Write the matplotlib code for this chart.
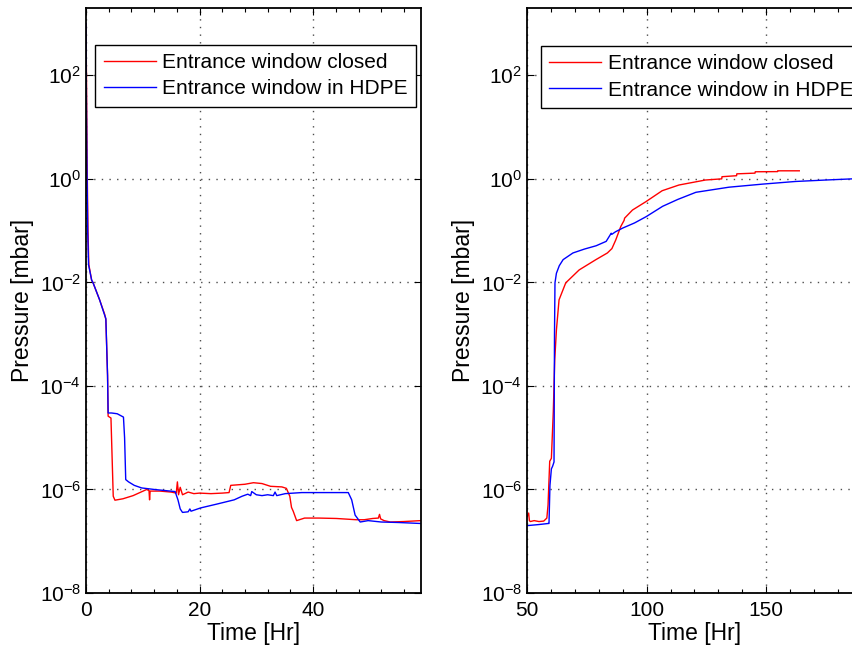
import numpy as np
import matplotlib
matplotlib.use('Agg')
import matplotlib.pyplot as plt
from matplotlib.ticker import FixedLocator, MultipleLocator, NullLocator, LogFormatterSciNotation

plt.rcParams['font.family'] = ['Liberation Sans', 'DejaVu Sans']
plt.rcParams['font.size'] = 15

# ---- pump-down (left panel) ----
t_closed_down = [0, 0.1, 0.2, 0.35, 0.5, 1.0, 1.25, 2.4, 3.3, 3.5, 3.8, 3.9, 4.4, 4.8, 5.1,
                 6.5, 8.3, 10.7, 11.1, 11.2, 11.3, 13, 15, 15.9, 16.1, 16.3, 16.6, 17, 18, 19,
                 20, 22, 24, 25.2, 25.5, 28, 29.5, 31, 32.5, 34.5, 35.3, 35.9, 36.2, 36.5,
                 37.1, 38.5, 41, 44.1, 47.6, 49, 50.5, 51.5, 51.7, 51.9, 52.5, 53.6, 56, 59]
p_closed_down = [1e3, 63, 2.0, 0.1, 2.2e-2, 1.1e-2, 9.8e-3, 4.6e-3, 2.4e-3, 1.9e-3, 1.6e-4,
                 2.6e-5, 2.4e-5, 7.4e-7, 6.2e-7, 6.6e-7, 7.6e-7, 1.0e-6, 9.5e-7, 6.3e-7,
                 9.3e-7, 9.3e-7, 8.9e-7, 8.5e-7, 1.4e-6, 7.9e-7, 1.1e-6, 7.9e-7, 8.9e-7,
                 8.3e-7, 8.5e-7, 8.3e-7, 8.5e-7, 8.7e-7, 1.2e-6, 1.26e-6, 1.35e-6, 1.3e-6,
                 1.15e-6, 1.12e-6, 1.05e-6, 7.4e-7, 4.5e-7, 3.8e-7, 2.5e-7, 2.8e-7, 2.8e-7,
                 2.75e-7, 2.6e-7, 2.6e-7, 2.75e-7, 2.8e-7, 3.3e-7, 2.7e-7, 2.5e-7, 2.35e-7,
                 2.4e-7, 2.5e-7]

t_hdpe_down = [0, 0.08, 0.18, 0.3, 0.45, 1.0, 1.25, 2.4, 3.3, 3.5, 3.8, 3.9, 4.5, 5.5, 6.6,
               6.8, 7.0, 7.5, 8.5, 9.8, 12, 15.7, 16.2, 16.6, 17.0, 18, 18.3, 18.5, 20.2, 23,
               26.1, 27.5, 28.5, 29, 29.2, 30, 31, 32, 33, 33.3, 33.6, 35.1, 38, 42, 46.2,
               46.8, 47.4, 48.3, 49.7, 52, 55, 59]
p_hdpe_down = [1e3, 32, 1.3, 0.1, 2.2e-2, 1.1e-2, 9.8e-3, 4.6e-3, 2.3e-3, 2.0e-3, 1.6e-4,
               3.0e-5, 3.0e-5, 2.9e-5, 2.5e-5, 1e-5, 1.55e-6, 1.4e-6, 1.2e-6, 1.07e-6, 1.0e-6,
               9.1e-7, 6.3e-7, 4.2e-7, 3.6e-7, 3.7e-7, 4.2e-7, 3.8e-7, 4.4e-7, 5.2e-7, 6.3e-7,
               7.4e-7, 8.1e-7, 7.6e-7, 9.1e-7, 7.9e-7, 7.6e-7, 7.9e-7, 7.6e-7, 8.9e-7, 7.6e-7,
               8.3e-7, 8.7e-7, 8.7e-7, 8.7e-7, 6.3e-7, 3.2e-7, 2.35e-7, 2.5e-7, 2.35e-7,
               2.3e-7, 2.2e-7]

# ---- venting (right panel) ----
t_closed_up = [50, 50.7, 51.0, 51.4, 53, 55, 57, 58.3, 58.8, 59.5, 60.2, 61.0, 61.6, 62.3,
               63.4, 66.2, 71.8, 78.8, 83.6, 85.5, 87.1, 89.2, 90.6, 90.8, 94.1, 99.6, 106.5,
               113.5, 124.6, 131.4, 131.5, 137.6, 137.7, 145.3, 145.4, 154.7, 154.8, 163.8]
p_closed_up = [3.0e-7, 3.5e-7, 2.5e-7, 2.4e-7, 2.5e-7, 2.4e-7, 2.45e-7, 2.8e-7, 5e-7, 3.5e-6,
               4e-6, 3.2e-5, 3.2e-4, 1.2e-3, 4.6e-3, 9.8e-3, 1.74e-2, 2.75e-2, 3.7e-2, 4.5e-2,
               6.6e-2, 0.12, 0.158, 0.174, 0.25, 0.36, 0.59, 0.76, 0.95, 1.0, 1.1, 1.15, 1.25,
               1.29, 1.37, 1.38, 1.43, 1.43]

t_hdpe_up = [50, 55, 58.9, 59.2, 59.6, 60.2, 60.7, 61.3, 61.5, 61.7, 62.3, 63.5, 65.1, 69.2,
             74, 78.9, 83.1, 85.2, 85.5, 87, 90, 95, 99.8, 106.7, 113, 120.6, 134.4, 148.3,
             162.2, 175, 186, 190]
p_hdpe_up = [2.0e-7, 2.1e-7, 2.2e-7, 2.2e-7, 1.2e-6, 2.5e-6, 2.8e-6, 3.4e-6, 1e-3, 9.8e-3,
             1.5e-2, 2.1e-2, 2.75e-2, 3.7e-2, 4.4e-2, 5.1e-2, 6.2e-2, 8.9e-2, 8.5e-2, 9.5e-2,
             0.112, 0.141, 0.186, 0.295, 0.40, 0.55, 0.69, 0.79, 0.89, 0.95, 1.0, 1.0]

labels = ['Entrance window closed', 'Entrance window in HDPE']
y_ticks = [1e-8, 1e-6, 1e-4, 1e-2, 1e0, 1e2]


def style_axes(ax, xlim, xmajor, xminor):
    ax.set_yscale('log')
    ax.set_ylim(1e-8, 2e3)
    ax.set_xlim(*xlim)
    ax.xaxis.set_major_locator(MultipleLocator(xmajor))
    ax.xaxis.set_minor_locator(MultipleLocator(xminor))
    ax.yaxis.set_major_locator(FixedLocator(y_ticks))
    ax.yaxis.set_major_formatter(LogFormatterSciNotation())
    ax.yaxis.set_minor_locator(NullLocator())
    ax.tick_params(which='both', direction='in', top=True, right=True, labelsize=15)
    ax.tick_params(axis='x', which='major', pad=6)
    ax.tick_params(which='major', length=5, width=0.8)
    ax.tick_params(which='minor', length=3, width=0.8)
    ax.grid(True, which='major', linestyle=(0, (1, 4.5)), color='0.3', linewidth=1.0)
    for s in ax.spines.values():
        s.set_linewidth(1.3)
    ax.set_xlabel('Time [Hr]', fontsize=16.5, labelpad=1)
    ax.set_ylabel('Pressure [mbar]', fontsize=16.5, labelpad=4)


fig = plt.figure(figsize=(8.53, 6.48), dpi=100)
ax1 = fig.add_axes([0.1008, 0.0849, 0.3927, 0.9028])
ax2 = fig.add_axes([0.6178, 0.0849, 0.3927, 0.9028])

ax1.plot(t_closed_down, p_closed_down, color='r', lw=1, label=labels[0])
ax1.plot(t_hdpe_down, p_hdpe_down, color='b', lw=1, label=labels[1])
style_axes(ax1, (0, 59), 20, 4)

ax2.plot(t_closed_up, p_closed_up, color='r', lw=1, label=labels[0])
ax2.plot(t_hdpe_up, p_hdpe_up, color='b', lw=1, label=labels[1])
style_axes(ax2, (50, 190), 50, 10)

leg_kw = dict(fancybox=False, edgecolor='black', framealpha=1, fontsize=15,
              handlelength=2.5, handletextpad=0.3, borderpad=0.4, labelspacing=0.35,
              borderaxespad=0)
l1 = ax1.legend(loc='upper right', bbox_to_anchor=(0.985, 0.937), **leg_kw)
l2 = ax2.legend(loc='upper left', bbox_to_anchor=(0.042, 0.935), **leg_kw)
for l in (l1, l2):
    l.get_frame().set_linewidth(1.0)

fig.savefig('out.png', dpi=100)
